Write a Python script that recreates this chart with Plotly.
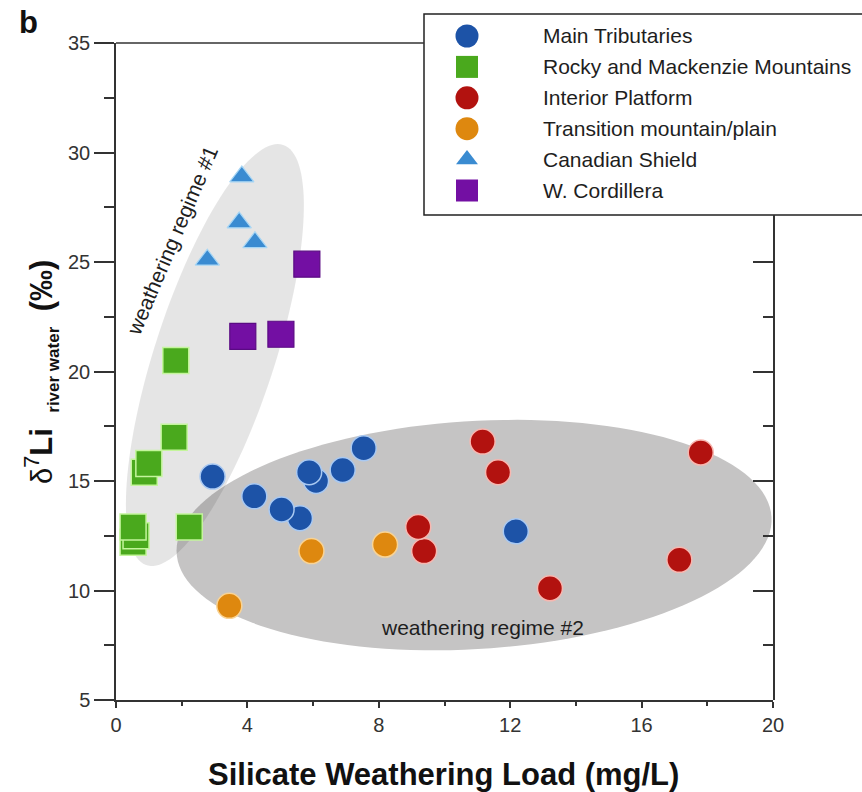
import numpy as np
import plotly.graph_objects as go

# ---------------------------------------------------------------- data
series_names = [
    "Main Tributaries",
    "Rocky and Mackenzie Mountains",
    "Interior Platform",
    "Transition mountain/plain",
    "Canadian Shield",
    "W. Cordillera",
]

main_trib_x = [2.94, 4.21, 5.60, 5.04, 6.09, 5.88, 6.90, 7.54, 12.17]
main_trib_y = [15.2, 14.3, 13.3, 13.7, 15.0, 15.4, 15.5, 16.5, 12.7]

rocky_x = [1.82, 1.77, 0.86, 1.00, 0.52, 0.61, 0.52, 2.23]
rocky_y = [20.5, 17.0, 15.4, 15.8, 12.2, 12.5, 12.9, 12.9]

interior_x = [11.16, 11.63, 9.38, 9.20, 13.21, 17.15, 17.80]
interior_y = [16.8, 15.4, 11.8, 12.9, 10.1, 11.4, 16.3]

transition_x = [5.95, 8.19, 3.45]
transition_y = [11.8, 12.1, 9.3]

shield_x = [3.83, 3.75, 4.23, 2.78]
shield_y = [28.9, 26.8, 25.9, 25.1]

cordillera_x = [5.81, 3.86, 5.02]
cordillera_y = [24.9, 21.6, 21.7]

x_ticks = [0, 4, 8, 12, 16, 20]
y_ticks = [5, 10, 15, 20, 25, 30, 35]

series_x = [main_trib_x, rocky_x, interior_x, transition_x, shield_x, cordillera_x]
series_y = [main_trib_y, rocky_y, interior_y, transition_y, shield_y, cordillera_y]

# ---------------------------------------------------------------- styles
FONT = "Liberation Sans, Arial, Helvetica, sans-serif"
AXIS_COLOR = "#333333"
TEXT_COLOR = "#1e1e1e"

marker_styles = [
    dict(symbol="circle", size=25, color="#1d53a7", line=dict(color="#a9c9f2", width=1.5)),
    dict(symbol="square", size=26, color="#4aa91d", line=dict(color="#c4f59c", width=1.5)),
    dict(symbol="circle", size=25, color="#b2120f", line=dict(color="#f7b7b0", width=1.5)),
    dict(symbol="circle", size=25, color="#de880f", line=dict(color="#f9d394", width=1.5)),
    dict(symbol="triangle-up", size=21, color="#3a8bd1", line=dict(color="#a7d6f5", width=1.2)),
    dict(symbol="square", size=26, color="#730fa3", line=dict(color="#5a0a83", width=1.2)),
]
legend_marker_sizes = [23, 22, 23, 23, 19, 22]

# ---------------------------------------------------------------- geometry
W, H = 862, 792
M_L, M_R, M_T, M_B = 116, 89, 6, 92          # outer margins (the top one leaves room for the legend)
AX_TOP_PX = 43                                 # pixel row of the top of the data frame
PLOT_W = W - M_L - M_R
PLOT_H = H - M_T - M_B
X_RANGE = (0, 20)
Y_RANGE = (5, 35)
PX_PER_X = PLOT_W / (X_RANGE[1] - X_RANGE[0])
PX_PER_Y = (H - M_B - AX_TOP_PX) / (Y_RANGE[1] - Y_RANGE[0])


def px_to_paper_x(px):
    return (px - M_L) / PLOT_W


def px_to_paper_y(py):
    return (H - M_B - py) / PLOT_H


Y_DOMAIN_TOP = px_to_paper_y(AX_TOP_PX)


def ellipse_path(cx, cy, a_px, b_px, angle_deg, n=140):
    """Closed SVG path of a rotated ellipse, sized in screen pixels."""
    t = np.linspace(0, 2 * np.pi, n)
    th = np.radians(angle_deg)
    dx = a_px * np.cos(t) * np.cos(th) - b_px * np.sin(t) * np.sin(th)
    dy = a_px * np.cos(t) * np.sin(th) + b_px * np.sin(t) * np.cos(th)
    xs = cx + dx / PX_PER_X
    ys = cy + dy / PX_PER_Y
    pts = [f"{x:.4f},{y:.4f}" for x, y in zip(xs, ys)]
    return "M " + " L ".join(pts) + " Z"


fig = go.Figure()

# weathering regime envelopes
regime1 = ellipse_path(3.01, 20.75, 221, 60, 72)
regime2 = ellipse_path(10.9, 12.53, 298, 114, 3.5)
fig.add_shape(type="path", path=regime1, xref="x", yref="y", layer="below",
              fillcolor="rgba(0,0,0,0.10)", line=dict(width=0))
fig.add_shape(type="path", path=regime2, xref="x", yref="y", layer="below",
              fillcolor="rgba(10,5,5,0.235)", line=dict(width=0))

# data series
for name, xs, ys, ms in zip(series_names, series_x, series_y, marker_styles):
    fig.add_trace(go.Scatter(
        x=xs, y=ys, mode="markers", name=name, showlegend=False,
        marker=ms, hoverinfo="x+y+name",
    ))

# ---------------------------------------------------------------- legend
LEG_LEFT, LEG_RIGHT = px_to_paper_x(424), px_to_paper_x(900)
LEG_TOP, LEG_BOT = px_to_paper_y(14), px_to_paper_y(215)
KEY_X = px_to_paper_x(467)
TEXT_X = px_to_paper_x(541)
ROW0_PX, ROW_STEP_PX = 36, 30.9

fig.add_shape(type="rect", xref="paper", yref="paper",
              x0=LEG_LEFT, x1=LEG_RIGHT, y0=LEG_BOT, y1=LEG_TOP,
              fillcolor="white", line=dict(color="#222222", width=1.5),
              layer="below")
# top frame segment left of the legend box
fig.add_shape(type="line", xref="paper", yref="paper",
              x0=0, x1=LEG_LEFT, y0=Y_DOMAIN_TOP, y1=Y_DOMAIN_TOP,
              line=dict(color=AXIS_COLOR, width=1.5))

for i, (name, ms, ls) in enumerate(zip(series_names, marker_styles, legend_marker_sizes)):
    ry = px_to_paper_y(ROW0_PX + i * ROW_STEP_PX)
    key = dict(ms)
    key["size"] = ls
    key["line"] = dict(width=0)
    fig.add_trace(go.Scatter(
        x=[KEY_X], y=[ry], xaxis="x2", yaxis="y2", mode="markers",
        marker=key, showlegend=False, hoverinfo="skip", cliponaxis=False,
    ))
    fig.add_annotation(x=TEXT_X, y=ry, xref="paper", yref="paper",
                       text=name, showarrow=False, xanchor="left", yanchor="middle",
                       font=dict(family=FONT, size=21, color=TEXT_COLOR))

# ---------------------------------------------------------------- text
fig.add_annotation(x=11.17, y=8.33, xref="x", yref="y", text="weathering regime #2",
                   showarrow=False, xanchor="center", yanchor="middle",
                   font=dict(family=FONT, size=21, color=TEXT_COLOR))
fig.add_annotation(x=1.70, y=26.0, xref="x", yref="y", text="weathering regime #1",
                   textangle=-67, showarrow=False, xanchor="center", yanchor="middle",
                   font=dict(family=FONT, size=21, color=TEXT_COLOR))

fig.add_annotation(x=px_to_paper_x(28), y=px_to_paper_y(23),
                   xref="paper", yref="paper", text="<b>b</b>", showarrow=False,
                   xanchor="center", yanchor="middle",
                   font=dict(family=FONT, size=31, color="#111111"))

fig.add_annotation(
    x=px_to_paper_x(41), y=px_to_paper_y(372), xref="paper", yref="paper",
    text=("<span style='font-size:29px'>δ</span><sup>7</sup><b>Li</b>\u2002"
          "<sub><b><span style='font-size:17px'>river water</span></b></sub>\u2002"
          "<b>(‰)</b>"),
    textangle=-90, showarrow=False, xanchor="center", yanchor="middle",
    font=dict(family=FONT, size=31, color="#111111"),
)
fig.add_annotation(
    x=px_to_paper_x(443), y=px_to_paper_y(774),
    xref="paper", yref="paper", xanchor="center", yanchor="middle",
    text="<b>Silicate Weathering Load (mg/L)</b>", showarrow=False,
    font=dict(family=FONT, size=31, color="#111111"),
)

# ---------------------------------------------------------------- axes
tick_font = dict(family=FONT, size=20, color="#333333")
RIGHT_TOP_Y = Y_RANGE[1] - (215 - AX_TOP_PX) / PX_PER_Y
fig.update_layout(
    width=W, height=H,
    margin=dict(l=M_L, r=M_R, t=M_T, b=M_B, autoexpand=False),
    paper_bgcolor="white", plot_bgcolor="rgba(0,0,0,0)",
    showlegend=False,
    xaxis=dict(
        range=list(X_RANGE), tickvals=x_ticks, ticks="outside", ticklen=6,
        tickwidth=1.5, tickcolor=AXIS_COLOR, showline=True, linecolor=AXIS_COLOR,
        linewidth=1.5, showgrid=False, zeroline=False, tickfont=tick_font,
        minor=dict(dtick=2, ticks="outside", ticklen=4, tickwidth=1.5,
                   tickcolor=AXIS_COLOR, showgrid=False),
    ),
    yaxis=dict(
        domain=[0, Y_DOMAIN_TOP],
        range=list(Y_RANGE), tickvals=y_ticks, ticks="outside", ticklen=20,
        tickwidth=1.5, tickcolor=AXIS_COLOR, showline=True, linecolor=AXIS_COLOR,
        linewidth=1.5, showgrid=False, zeroline=False, tickfont=tick_font,
        minor=dict(dtick=2.5, ticks="outside", ticklen=10, tickwidth=1.5,
                   tickcolor=AXIS_COLOR, showgrid=False),
    ),
    # right frame with inward ticks, stopping under the legend box
    yaxis3=dict(
        domain=[0, px_to_paper_y(215)], range=[Y_RANGE[0], RIGHT_TOP_Y],
        anchor="x", side="right", tickvals=y_ticks, ticks="inside", ticklen=20,
        tickwidth=1.5, tickcolor=AXIS_COLOR, showline=True, linecolor=AXIS_COLOR,
        linewidth=1.5, showgrid=False, zeroline=False, showticklabels=False,
        minor=dict(dtick=2.5, ticks="inside", ticklen=10, tickwidth=1.5,
                   tickcolor=AXIS_COLOR, showgrid=False),
    ),
    # helper axes in paper units for the legend keys
    xaxis2=dict(domain=[0, 1], range=[0, 1], anchor="y2",
                visible=False, fixedrange=True),
    yaxis2=dict(domain=[0, 1], range=[0, 1], anchor="x2",
                visible=False, fixedrange=True),
)

# attach an empty trace so the right-hand frame axis is drawn
fig.add_trace(go.Scatter(x=[], y=[], xaxis="x", yaxis="y3", showlegend=False,
                         hoverinfo="skip"))

fig.write_html("out.html")
